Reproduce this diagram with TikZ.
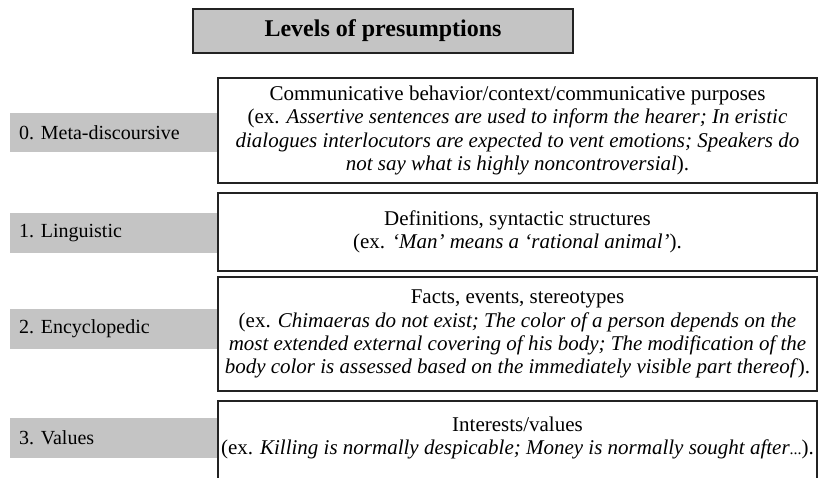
\documentclass[tikz,border=0pt]{standalone}
\usepackage{fontspec}
\setmainfont{Liberation Serif}
\begin{document}
\begin{tikzpicture}[x=1pt,y=-1pt,
  graybox/.style={fill=boxgray,draw=none},
  frame/.style={draw=edge,line width=1.2pt,fill=white},
  bodytext/.style={align=center,inner sep=0pt,font=\fontsize{21}{23.2}\selectfont},
  leveltext/.style={anchor=west,inner sep=0pt,font=\fontsize{20}{23}\selectfont}]
\definecolor{boxgray}{RGB}{196,196,196}
\definecolor{edge}{RGB}{35,35,35}
\useasboundingbox (0,0) rectangle (820,478);
\clip (0,0) rectangle (820,478);

% title
\draw[fill=boxgray,draw=edge,line width=1.2pt] (193,9) rectangle (573,53);
\node[inner sep=0pt,font=\fontsize{24}{26}\selectfont\bfseries] (title) at (383,31) {Levels of presumptions};

% level labels
\fill[boxgray] (10,113) rectangle (218,152);
\node[leveltext] (l0) at (19,133) {0. Meta-discoursive};
\fill[boxgray] (10,213) rectangle (218,253);
\node[leveltext] (l1) at (19,233) {1. Linguistic};
\fill[boxgray] (10,309) rectangle (218,349);
\node[leveltext] (l2) at (19,329) {2. Encyclopedic};
\fill[boxgray] (10,418) rectangle (218,458);
\node[leveltext] (l3) at (19,438) {3. Values};

% content boxes
\draw[frame] (218,78) rectangle (817,183);
\node[bodytext] (c0) at (517.5,130.5) {Communicative behavior/context/communicative purposes\\
(ex. \textit{Assertive sentences are used to inform the hearer; In eristic}\\
\textit{dialogues interlocutors are expected to vent emotions; Speakers do}\\
\textit{not say what is highly noncontroversial}).};

\draw[frame] (218,193) rectangle (817,271);
\node[bodytext] (c1) at (517.5,232) {Definitions, syntactic structures\\
(ex. \textit{`Man' means a `rational animal'}).};

\draw[frame] (218,277) rectangle (817,391);
\node[bodytext] (c2) at (517.5,334) {Facts, events, stereotypes\\
(ex. \textit{Chimaeras do not exist; The color of a person depends on the}\\
\textit{most extended external covering of his body; The modification of the}\\
\textit{body color is assessed based on the immediately visible part thereof}).};

\draw[frame] (218,401) rectangle (817,500);
\node[bodytext] (c3) at (517.5,438) {Interests/values\\
(ex. \textit{Killing is normally despicable; Money is normally sought after}{\fontsize{16}{18}\selectfont...}).};
\end{tikzpicture}
\end{document}
